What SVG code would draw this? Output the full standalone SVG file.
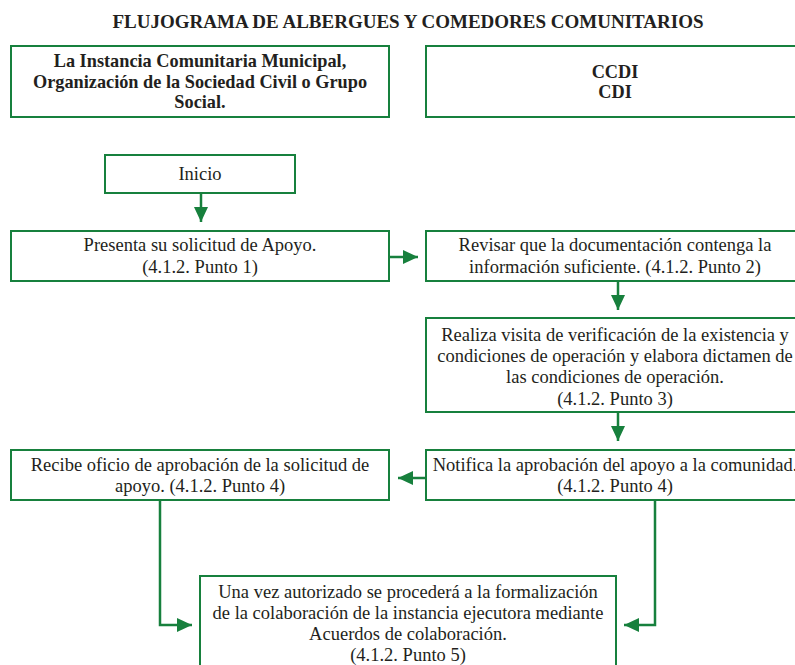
<svg xmlns="http://www.w3.org/2000/svg" width="795" height="665" viewBox="0 0 795 665">
<style>
.box{fill:#fff;stroke:#17803d;stroke-width:2}
.t{font-family:"Liberation Serif","Times New Roman",serif;font-size:18.5px;fill:#231f20;text-anchor:middle}
.b{font-weight:bold;font-size:18.3px}
.c{fill:none;stroke:#17803d;stroke-width:2.5}
</style>
<defs>
<marker id="ah" markerUnits="userSpaceOnUse" markerWidth="16" markerHeight="16" viewBox="0 0 16 16" refX="15" refY="8" orient="auto">
<path d="M0,1 L15,8 L0,15 Z" fill="#17803d"/>
</marker>
</defs>
<rect width="795" height="665" fill="#fff"/>
<text class="t b" x="408" y="28" style="font-size:19px">FLUJOGRAMA DE ALBERGUES Y COMEDORES COMUNITARIOS</text>
<g id="h1"><rect class="box" x="11" y="46" width="378" height="71"/>
<text class="t b" x="200" y="67">La Instancia Comunitaria Municipal,</text>
<text class="t b" x="200" y="88">Organización de la Sociedad Civil o Grupo</text>
<text class="t b" x="200" y="108">Social.</text></g>
<g id="h2"><rect class="box" x="426" y="46" width="378" height="71"/>
<text class="t b" x="615" y="78">CCDI</text>
<text class="t b" x="615" y="98">CDI</text></g>
<g id="inicio"><rect class="box" x="105" y="155" width="190" height="38"/>
<text class="t" x="200" y="180">Inicio</text></g>
<g id="presenta"><rect class="box" x="11" y="231" width="378" height="50"/>
<text class="t" x="200" y="251">Presenta su solicitud de Apoyo.</text>
<text class="t" x="200" y="273">(4.1.2. Punto 1)</text></g>
<g id="revisar"><rect class="box" x="426" y="231" width="378" height="50"/>
<text class="t" x="615" y="251">Revisar que la documentación contenga la</text>
<text class="t" x="615" y="273">información suficiente. (4.1.2. Punto 2)</text></g>
<g id="realiza"><rect class="box" x="426" y="318" width="378" height="94"/>
<text class="t" x="615" y="341">Realiza visita de verificación de la existencia y</text>
<text class="t" x="615" y="362">condiciones de operación y elabora dictamen de</text>
<text class="t" x="615" y="383">las condiciones de operación.</text>
<text class="t" x="615" y="405">(4.1.2. Punto 3)</text></g>
<g id="notifica"><rect class="box" x="426" y="450" width="378" height="50"/>
<text class="t" x="615" y="471">Notifica la aprobación del apoyo a la comunidad.</text>
<text class="t" x="615" y="492">(4.1.2. Punto 4)</text></g>
<g id="recibe"><rect class="box" x="11" y="450" width="378" height="50"/>
<text class="t" x="200" y="471">Recibe oficio de aprobación de la solicitud de</text>
<text class="t" x="200" y="492">apoyo. (4.1.2. Punto 4)</text></g>
<g id="unavez"><rect class="box" x="200" y="576" width="416" height="100"/>
<text class="t" x="408" y="598">Una vez autorizado se procederá a la formalización</text>
<text class="t" x="408" y="619">de la colaboración de la instancia ejecutora mediante</text>
<text class="t" x="408" y="640">Acuerdos de colaboración.</text>
<text class="t" x="408" y="661">(4.1.2. Punto 5)</text></g>
<g id="connectors">
<path class="c" d="M201,193 V222" marker-end="url(#ah)"/>
<path class="c" d="M389,257 H418" marker-end="url(#ah)"/>
<path class="c" d="M618,281 V310" marker-end="url(#ah)"/>
<path class="c" d="M618,412 V441" marker-end="url(#ah)"/>
<path class="c" d="M426,478 H398" marker-end="url(#ah)"/>
<path class="c" d="M160,500 V625 H192" marker-end="url(#ah)"/>
<path class="c" d="M655,500 V625 H624" marker-end="url(#ah)"/>
</g>
</svg>
